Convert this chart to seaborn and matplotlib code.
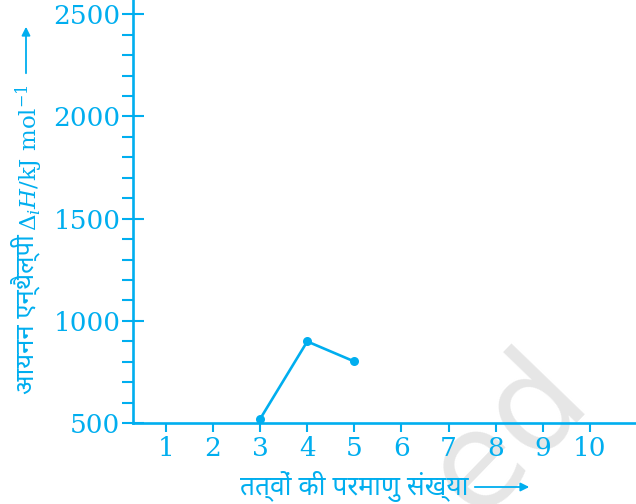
import matplotlib
matplotlib.use("Agg")
import matplotlib.pyplot as plt
from matplotlib.ticker import MultipleLocator
import seaborn as sns
import pandas as pd

# First ionisation enthalpies of Li, Be, B
atomic_number = [3, 4, 5]
ionisation_enthalpy = [520, 899, 801]
x_ticks = [1, 2, 3, 4, 5, 6, 7, 8, 9, 10]
y_ticks = [500, 1000, 1500, 2000, 2500]

ylabel_hi = "आयनन एन्थैल्पी"
ylabel_math = r"$\Delta_i H/\mathrm{kJ\ mol^{-1}}$"
xlabel_hi = "तत्वों की परमाणु संख्या"

BLUE = "#00AEEF"
DEVA = ["Noto Sans Devanagari", "Hind", "Mukta", "Annapurna SIL", "DejaVu Sans"]
SERIF = ["DejaVu Serif"]

sns.set_style("ticks")
plt.rcParams["font.family"] = SERIF
plt.rcParams["mathtext.fontset"] = "dejavuserif"

W, H = 636, 504
fig = plt.figure(figsize=(W / 100, H / 100), dpi=100)
ax = fig.add_axes([133 / W, 1 - 423 / H, 1 - 133 / W, 423 / H])

df = pd.DataFrame({"z": atomic_number, "dH": ionisation_enthalpy})
sns.lineplot(data=df, x="z", y="dH", ax=ax, color=BLUE, lw=1.9,
             marker="o", markersize=6.5, markeredgewidth=0, zorder=3)

ax.set_xlim(0.3, 10.98)
ax.set_ylim(500, 2570)
ax.set_xticks(x_ticks)
ax.set_yticks(y_ticks)
ax.yaxis.set_minor_locator(MultipleLocator(100))
ax.set_xlabel("")
ax.set_ylabel("")

for side in ("top", "right"):
    ax.spines[side].set_visible(False)
for side in ("left", "bottom"):
    ax.spines[side].set_color(BLUE)
    ax.spines[side].set_linewidth(1.9)

ax.tick_params(axis="y", which="major", direction="inout", length=16,
               width=1.5, color=BLUE, labelcolor=BLUE, labelsize=19, pad=1)
ax.tick_params(axis="y", which="minor", direction="out", length=8,
               width=1.5, color=BLUE)
ax.tick_params(axis="x", which="major", direction="out", length=6.5,
               width=1.5, color=BLUE, labelcolor=BLUE, labelsize=19, pad=3)
ax.patch.set_alpha(0)

# faint watermark behind the plot
fig.text(592 / W, 1 - 400 / H, "ed", rotation=46, rotation_mode="anchor",
         ha="right", va="baseline", fontsize=96, color="#e6e6e6",
         family="DejaVu Sans", zorder=-5)

# y-axis title with arrow
fig.text(25 / W, 1 - 394 / H, ylabel_hi, rotation=90, rotation_mode="anchor",
         ha="left", va="center", fontsize=18.5, color=BLUE, family=DEVA)
fig.text(29 / W, 1 - 231 / H, ylabel_math, rotation=90, rotation_mode="anchor",
         ha="left", va="center", fontsize=16.5, color=BLUE)
fig.add_artist(matplotlib.patches.FancyArrowPatch(
    (26 / W, 1 - 76 / H), (26 / W, 1 - 24 / H), transform=fig.transFigure,
    arrowstyle="-|>,head_length=5,head_width=2.5", color=BLUE, lw=1.3))

# x-axis title with arrow
fig.text(240 / W, 1 - 487 / H, xlabel_hi, ha="left", va="center",
         fontsize=19, color=BLUE, family=DEVA)
fig.add_artist(matplotlib.patches.FancyArrowPatch(
    (472 / W, 1 - 487 / H), (532 / W, 1 - 487 / H), transform=fig.transFigure,
    arrowstyle="-|>,head_length=5,head_width=2.5", color=BLUE, lw=1.3))

fig.savefig("out.png", dpi=100)
